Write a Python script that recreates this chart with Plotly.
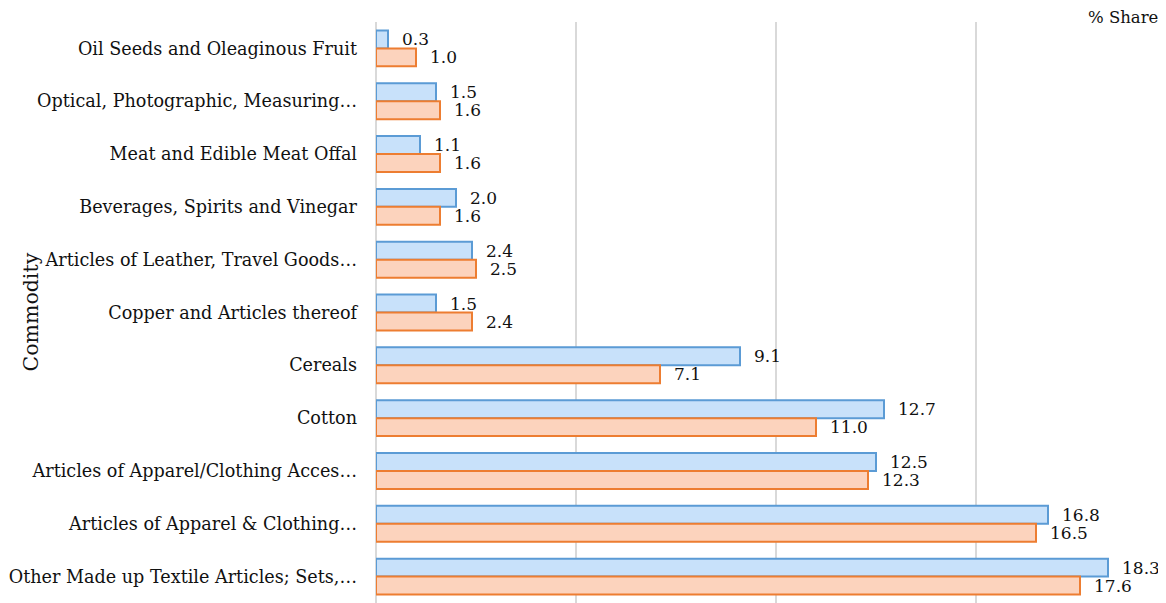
import plotly.graph_objects as go

categories = [
    "Oil Seeds and Oleaginous Fruit",
    "Optical, Photographic, Measuring…",
    "Meat and Edible Meat Offal",
    "Beverages, Spirits and Vinegar",
    "Articles of Leather, Travel Goods…",
    "Copper and Articles thereof",
    "Cereals",
    "Cotton",
    "Articles of Apparel/Clothing Acces…",
    "Articles of Apparel & Clothing…",
    "Other Made up Textile Articles; Sets,…",
]
series_a = [0.3, 1.5, 1.1, 2.0, 2.4, 1.5, 9.1, 12.7, 12.5, 16.8, 18.3]
series_b = [1.0, 1.6, 1.6, 1.6, 2.5, 2.4, 7.1, 11.0, 12.3, 16.5, 17.6]

FONT = "DejaVu Serif"
LABEL_SIZE = 17
TICK_SIZE = 17.6

fig = go.Figure()
fig.add_trace(go.Bar(
    y=categories, x=series_a, orientation="h", name="A",
    marker=dict(color="#c8e1fa", line=dict(color="#5b9bd5", width=2)),
))
fig.add_trace(go.Bar(
    y=categories, x=series_b, orientation="h", name="B",
    marker=dict(color="#fcd3bd", line=dict(color="#ed7d31", width=2)),
))

annotations = []
for c, v in zip(categories, series_a):
    annotations.append(dict(x=v, y=c, xref="x", yref="y", text=f"{v:.1f}",
                            showarrow=False, xanchor="left", yanchor="middle",
                            xshift=12, yshift=9,
                            font=dict(family=FONT, size=LABEL_SIZE, color="#111")))
for c, v in zip(categories, series_b):
    annotations.append(dict(x=v, y=c, xref="x", yref="y", text=f"{v:.1f}",
                            showarrow=False, xanchor="left", yanchor="middle",
                            xshift=12, yshift=-9,
                            font=dict(family=FONT, size=LABEL_SIZE, color="#111")))
annotations.append(dict(x=1, y=1, xref="paper", yref="paper", text="% Share",
                        showarrow=False, xanchor="right", yanchor="middle",
                        yshift=5,
                        font=dict(family=FONT, size=16.5, color="#111")))
annotations.append(dict(x=0, y=0.5, xref="paper", yref="paper", text="Commodity",
                        showarrow=False, xanchor="center", yanchor="middle",
                        textangle=-90, xshift=-346,
                        font=dict(family=FONT, size=20.5, color="#111")))

# page body has an 8px default margin; compensate so the chart fills 1166x603
fig.update_layout(
    width=1158, height=595,
    margin=dict(l=368, r=6, t=14, b=0, autoexpand=False),
    paper_bgcolor="white", plot_bgcolor="white",
    barmode="group", bargap=0.32, bargroupgap=0,
    showlegend=False,
    annotations=annotations,
    font=dict(family=FONT, size=TICK_SIZE, color="#111"),
)
fig.update_xaxes(range=[0, 19.6], showticklabels=False, ticks="",
                 showgrid=True, gridcolor="#d9d9d9", gridwidth=1.5,
                 dtick=5, zeroline=True, zerolinecolor="#d9d9d9", zerolinewidth=1.5,
                 showline=False, automargin=False)
fig.update_yaxes(autorange="reversed", ticks="", ticklabelstandoff=18,
                 tickfont=dict(family=FONT, size=TICK_SIZE, color="#111"),
                 showline=False, showgrid=False, automargin=False)

fig.write_html("out.html")
